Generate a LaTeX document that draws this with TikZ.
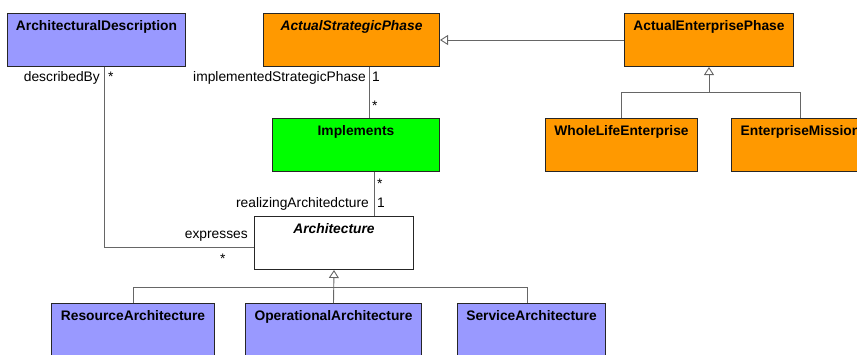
\documentclass[tikz,border=0pt]{standalone}
\usepackage{fontspec}
\setmainfont{Liberation Sans}
\usetikzlibrary{arrows.meta}
\definecolor{archblue}{HTML}{9999FF}
\definecolor{phaseorange}{HTML}{FF9900}
\definecolor{implgreen}{HTML}{00FF00}
\newcommand{\umlsize}{\fontsize{13.8}{16}\selectfont}
\tikzset{
  cls/.style 2 args={draw=black!85, line width=1pt, minimum width=#1, minimum height=53,
    anchor=north west, inner sep=0pt,
    label={[font=\umlsize\bfseries, anchor=north, inner sep=0pt, yshift=-7pt]north:#2}},
  assoc/.style={draw=black!60, line width=0.9pt},
  gen/.style={assoc, -{Triangle[open, length=8pt, width=10pt]}},
  role/.style={inner sep=0pt}
}
\begin{document}
\begin{tikzpicture}[font=\umlsize, x=1pt, y=-1pt]
\clip (0,0) rectangle (857,354);

\node[cls={178}{ArchitecturalDescription}, fill=archblue] (archdesc) at (7,13) {};
\node[cls={176}{\textit{ActualStrategicPhase}}, fill=phaseorange] (strategic) at (263,13) {};
\node[cls={169}{ActualEnterprisePhase}, fill=phaseorange] (enterprise) at (624,13) {};
\node[cls={167}{Implements}, fill=implgreen] (implements) at (272,118) {};
\node[cls={152}{WholeLifeEnterprise}, fill=phaseorange] (wholelife) at (545,118) {};
\node[cls={138}{EnterpriseMission}, fill=phaseorange] (mission) at (731,118) {};
\node[cls={159}{\textit{Architecture}}, fill=white] (arch) at (254,216) {};
\node[cls={163}{ResourceArchitecture}, fill=archblue] (resource) at (51,303) {};
\node[cls={176}{OperationalArchitecture}, fill=archblue] (operational) at (245,303) {};
\node[cls={148}{ServiceArchitecture}, fill=archblue] (service) at (457,303) {};

\draw[gen] (enterprise.west) -- (strategic.east);
\coordinate (ebus) at (enterprise.south |- 0,92);
\draw[assoc] (wholelife.north) |- (mission.north |- ebus) -- (mission.north);
\draw[gen] (ebus) -- (enterprise.south);

\coordinate (abus) at (arch.south |- 0,287);
\draw[assoc] (resource.north) |- ([xshift=-4]service.north |- abus) -- ([xshift=-4]service.north);
\draw[gen] (operational.north) -- (arch.south);

\coordinate (sx) at (369,0);
\coordinate (ix) at (374,0);
\coordinate (dx) at (104,0);
\draw[assoc] (strategic.south -| sx) -- (implements.north -| sx);
\draw[assoc] (implements.south -| ix) -- (arch.north -| ix);
\draw[assoc] (archdesc.south -| dx) |- ([yshift=-4.5]arch.west);

\node[role, anchor=base east] (describedby) at (100,81) {describedBy};
\node[role, anchor=base west] (describedbym) at (108,81) {*};
\node[role, anchor=base east] (implphase) at (366,81) {implementedStrategicPhase};
\node[role, anchor=base west] (implphasem) at (372,81) {1};
\node[role, anchor=base west] (implm) at (372,110) {*};
\node[role, anchor=base west] (realm) at (377,188) {*};
\node[role, anchor=base east] (realizing) at (369,207) {realizingArchitedcture};
\node[role, anchor=base west] (realizingm) at (377,207) {1};
\node[role, anchor=base east] (expresses) at (248,238) {expresses};
\node[role, anchor=base west] (expressesm) at (220,263) {*};

\end{tikzpicture}
\end{document}
